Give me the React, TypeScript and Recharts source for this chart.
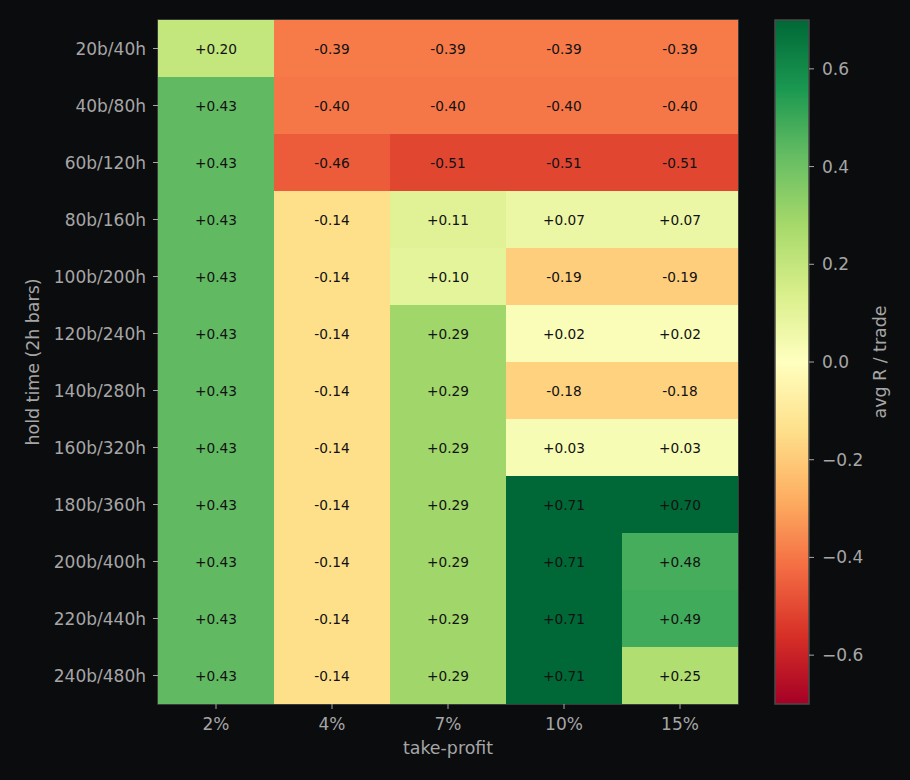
import React from 'react';
import { BarChart, Bar, XAxis, YAxis, Cell, LabelList, Label, ComposedChart, ReferenceArea } from 'recharts';

const holdTimes = ['20b/40h', '40b/80h', '60b/120h', '80b/160h', '100b/200h', '120b/240h', '140b/280h', '160b/320h', '180b/360h', '200b/400h', '220b/440h', '240b/480h'];
const takeProfits = ['2%', '4%', '7%', '10%', '15%'];
const tp2 = [0.20, 0.43, 0.43, 0.43, 0.43, 0.43, 0.43, 0.43, 0.43, 0.43, 0.43, 0.43];
const tp4 = [-0.39, -0.40, -0.46, -0.14, -0.14, -0.14, -0.14, -0.14, -0.14, -0.14, -0.14, -0.14];
const tp7 = [-0.39, -0.40, -0.51, 0.11, 0.10, 0.29, 0.29, 0.29, 0.29, 0.29, 0.29, 0.29];
const tp10 = [-0.39, -0.40, -0.51, 0.07, -0.19, 0.02, -0.18, 0.03, 0.71, 0.71, 0.71, 0.71];
const tp15 = [-0.39, -0.40, -0.51, 0.07, -0.19, 0.02, -0.18, 0.03, 0.70, 0.48, 0.49, 0.25];
const columns = [tp2, tp4, tp7, tp10, tp15];
const colorbarTicks = [-0.6, -0.4, -0.2, 0.0, 0.2, 0.4, 0.6];
const vMin = -0.7;
const vMax = 0.7;

// RdYlGn colormap definition
const RDYLGN = ['#a50026', '#d73027', '#f46d43', '#fdae61', '#fee08b', '#ffffbf', '#d9ef8b', '#a6d96a', '#66bd63', '#1a9850', '#006837'];

function hexToRgb(h: string) {
  return [parseInt(h.slice(1, 3), 16), parseInt(h.slice(3, 5), 16), parseInt(h.slice(5, 7), 16)];
}
function colorFor(v: number) {
  let t = (v - vMin) / (vMax - vMin);
  t = Math.max(0, Math.min(1, t));
  const pos = t * (RDYLGN.length - 1);
  const i = Math.min(RDYLGN.length - 2, Math.floor(pos));
  const f = pos - i;
  const a = hexToRgb(RDYLGN[i]);
  const b = hexToRgb(RDYLGN[i + 1]);
  const c = a.map((x, k) => Math.round(x + (b[k] - x) * f));
  return `rgb(${c[0]},${c[1]},${c[2]})`;
}

const rows = holdTimes.map((h, i) => {
  const o: any = { hold: h };
  columns.forEach((col, j) => { o['v' + j] = col[i]; });
  return o;
});

const BG = '#0b0c0e';
const TXT = '#a6a6a6';
const FONT = 'DejaVu Sans';
const TICK_FS = 17;
const LABEL_FS = 17.4;

const fmt = (v: number) => (v >= 0 ? '+' : '-') + Math.abs(v).toFixed(2);
const fmtTick = (v: number) => (v < 0 ? '\u2212' : '') + Math.abs(v).toFixed(1);

export default function App() {
  return (
    <div style={{ position: 'absolute', left: 0, top: 0, width: 910, height: 780, background: BG, fontFamily: FONT }}>
      <svg width={0} height={0} style={{ position: 'absolute' }}>
        <defs>
          <linearGradient id="rdylgn-cb" x1="0" y1="0" x2="0" y2="1">
            {RDYLGN.slice().reverse().map((c, i) => (
              <stop key={i} offset={`${(i / (RDYLGN.length - 1)) * 100}%`} stopColor={c} />
            ))}
          </linearGradient>
        </defs>
      </svg>
      <div style={{ position: 'absolute', left: 0, top: 0 }}>
        <BarChart
          width={760}
          height={780}
          data={rows}
          layout="vertical"
          margin={{ top: 20, right: 22, bottom: 26, left: 0 }}
          barCategoryGap={0}
          barGap={0}
        >
          <XAxis
            type="number"
            domain={[0, 5]}
            ticks={[0.5, 1.5, 2.5, 3.5, 4.5]}
            tickFormatter={(v: number) => takeProfits[Math.floor(v)]}
            height={50}
            axisLine={false}
            tickSize={5}
            tickMargin={9}
            tickLine={{ stroke: TXT }}
            tick={{ fill: TXT, fontSize: TICK_FS, fontFamily: FONT }}
            allowDataOverflow
          >
            <Label
              content={(p: any) => {
                const vb = p.viewBox;
                return (
                  <text x={vb.x + vb.width / 2} y={754} textAnchor="middle" fill={TXT} fontSize={LABEL_FS} fontFamily={FONT}>
                    take-profit
                  </text>
                );
              }}
            />
          </XAxis>
          <YAxis
            type="category"
            dataKey="hold"
            width={158}
            axisLine={false}
            tickSize={5}
            tickMargin={7}
            tickLine={{ stroke: TXT }}
            tick={{ fill: TXT, fontSize: TICK_FS, fontFamily: FONT }}
            interval={0}
          >
            <Label
              content={(p: any) => {
                const vb = p.viewBox;
                const cx = 33;
                const cy = vb.y + vb.height / 2;
                return (
                  <text x={cx} y={cy} transform={`rotate(-90, ${cx}, ${cy})`} textAnchor="middle" dominantBaseline="central" fill={TXT} fontSize={LABEL_FS} fontFamily={FONT}>
                    hold time (2h bars)
                  </text>
                );
              }}
            />
          </YAxis>
          {columns.map((col, j) => (
            <Bar key={j} dataKey={() => 1} stackId="a" isAnimationActive={false}>
              {col.map((v, i) => (
                <Cell key={i} fill={colorFor(v)} />
              ))}
              <LabelList
                content={(p: any) => (
                  <text
                    x={p.x + p.width / 2}
                    y={p.y + p.height / 2}
                    textAnchor="middle"
                    dominantBaseline="central"
                    fill="#111"
                    fontSize={13.7}
                    fontFamily={FONT}
                  >
                    {fmt(col[p.index])}
                  </text>
                )}
              />
            </Bar>
          ))}
          <ReferenceArea x1={0} x2={5} fill="none" stroke="#4a4a4a" strokeWidth={1.5} ifOverflow="visible" />
        </BarChart>
      </div>
      <div style={{ position: 'absolute', left: 760, top: 0 }}>
        <ComposedChart width={150} height={780} data={[{ x: 0.5, y: 0 }]} margin={{ top: 20, right: 0, bottom: 76, left: 15 }}>
          <XAxis type="number" dataKey="x" domain={[0, 1]} hide />
          <YAxis
            type="number"
            orientation="right"
            domain={[vMin, vMax]}
            ticks={colorbarTicks}
            tickFormatter={fmtTick}
            width={101}
            axisLine={false}
            tickSize={5}
            tickMargin={8}
            tickLine={{ stroke: TXT }}
            tick={{ fill: TXT, fontSize: TICK_FS, fontFamily: FONT }}
            allowDataOverflow
          >
            <Label
              content={(p: any) => {
                const vb = p.viewBox;
                const cx = 880 - 760;
                const cy = vb.y + vb.height / 2;
                return (
                  <text x={cx} y={cy} transform={`rotate(-90, ${cx}, ${cy})`} textAnchor="middle" dominantBaseline="central" fill={TXT} fontSize={LABEL_FS} fontFamily={FONT}>
                    avg R / trade
                  </text>
                );
              }}
            />
          </YAxis>
          <ReferenceArea x1={0} x2={1} y1={vMin} y2={vMax} fill="url(#rdylgn-cb)" fillOpacity={1} stroke="#4a4a4a" strokeWidth={1.5} />
        </ComposedChart>
      </div>
    </div>
  );
}
